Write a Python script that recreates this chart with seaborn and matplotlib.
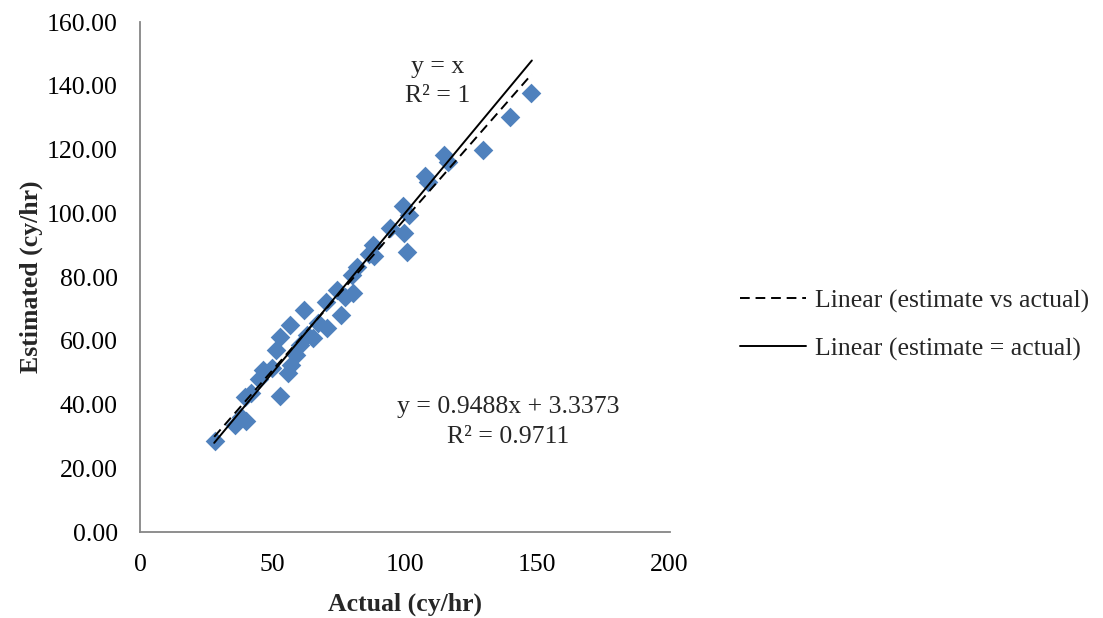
import numpy as np
import pandas as pd
import matplotlib
matplotlib.use("Agg")
import matplotlib.pyplot as plt
import seaborn as sns
from matplotlib.lines import Line2D

# Observed vs. estimated production rates (cy/hr)
actual = [28.3, 35.8, 38.0, 40.0, 39.6, 42.0, 45.0, 46.4, 49.8, 52.8, 51.3, 53.0,
          56.6, 56.0, 57.0, 59.0, 60.4, 62.0, 63.0, 65.3, 67.2, 70.2, 70.6, 74.3,
          75.8, 77.4, 80.4, 80.0, 82.0, 86.4, 88.0, 88.3, 94.3, 99.2, 99.6, 100.8,
          101.5, 107.5, 108.7, 114.7, 116.2, 129.4, 139.6, 147.5]
estimated = [28.6, 33.6, 36.0, 34.8, 42.4, 43.6, 48.0, 50.8, 51.5, 42.7, 57.1, 61.2,
             65.0, 50.0, 52.4, 55.5, 58.7, 69.6, 61.8, 60.9, 65.6, 72.2, 64.0, 75.9,
             68.1, 73.7, 75.0, 80.6, 83.1, 87.2, 90.0, 86.6, 95.4, 102.3, 93.8, 87.8,
             99.5, 111.7, 109.8, 118.3, 116.0, 119.8, 130.2, 137.7]

# Trendline coefficients
fit_slope = 0.9488
fit_intercept = 3.3373
fit_r2 = 0.9711
line_range = [28.0, 148.0]

x_ticks = [0, 50, 100, 150, 200]
y_ticks = [0, 20, 40, 60, 80, 100, 120, 140, 160]

df = pd.DataFrame({"Actual": actual, "Estimated": estimated})

sns.set_theme(style="white")
plt.rcParams["font.family"] = ["Liberation Serif", "DejaVu Serif"]

FS = 18.5
DASH = (0, (5, 3))

fig = plt.figure(figsize=(11.03, 6.18), dpi=100)
ax = fig.add_axes([0.127, 0.139, 0.480, 0.825])

sns.scatterplot(data=df, x="Actual", y="Estimated", marker="D", s=100,
                color="#4F81BD", linewidth=0, ax=ax, zorder=2)

xs = np.array(line_range)
ax.plot(xs, fit_slope * xs + fit_intercept, color="black", lw=1.4,
        ls=DASH, zorder=3)
ax.plot(xs, xs, color="black", lw=1.4, zorder=3)

ax.set_xlim(0, 200)
ax.set_ylim(0, 160)
ax.set_xticks(x_ticks)
ax.set_yticks(y_ticks)
ax.set_yticklabels([f"{v:.2f}" for v in y_ticks])
ax.tick_params(axis="both", length=0, labelsize=FS, colors="black")
ax.tick_params(axis="y", pad=16)
ax.tick_params(axis="x", pad=16)

for side in ("top", "right"):
    ax.spines[side].set_visible(False)
for side in ("left", "bottom"):
    ax.spines[side].set_color("#868686")
    ax.spines[side].set_linewidth(1.3)

ax.set_xlabel("Actual (cy/hr)", fontsize=FS, fontweight="bold", labelpad=12)
ax.set_ylabel("Estimated (cy/hr)", fontsize=FS, fontweight="bold", labelpad=3)

ax.text(112.5, 146.0, "y = x", ha="center", va="center", fontsize=FS)
ax.text(112.5, 136.8, "R² = 1", ha="center", va="center", fontsize=FS)
ax.text(138.9, 39.2, f"y = {fit_slope}x + {fit_intercept}", ha="center",
        va="center", fontsize=FS)
ax.text(138.9, 29.8, f"R² = {fit_r2}", ha="center", va="center", fontsize=FS)

handles = [Line2D([], [], color="black", lw=1.4, ls=DASH),
           Line2D([], [], color="black", lw=1.4)]
fig.legend(handles, ["Linear (estimate vs actual)", "Linear (estimate = actual)"],
           loc="center left", bbox_to_anchor=(0.671, 0.474), frameon=False,
           borderpad=0, borderaxespad=0, fontsize=FS, handlelength=2.55,
           handletextpad=0.35, labelspacing=0.95)

fig.savefig("out.png", dpi=100, facecolor="white")
